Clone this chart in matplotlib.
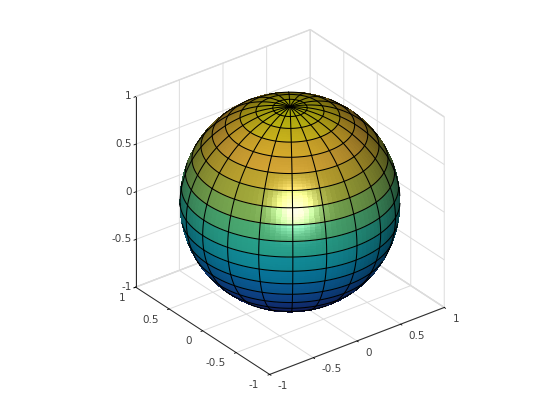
import numpy as np
import matplotlib
matplotlib.use("Agg")
import matplotlib.pyplot as plt
from matplotlib.colors import LinearSegmentedColormap

# mesh lines of the sphere, degrees
lat_deg = [-90, -81, -72, -63, -54, -45, -36, -27, -18, -9, 0,
           9, 18, 27, 36, 45, 54, 63, 72, 81, 90]
lon_deg = [-180, -162, -144, -126, -108, -90, -72, -54, -36, -18, 0,
           18, 36, 54, 72, 90, 108, 126, 144, 162, 180]

x_ticks = [-1, -0.5, 0, 0.5, 1]
y_ticks = [-1, -0.5, 0, 0.5, 1]
z_ticks = [-1, -0.5, 0, 0.5, 1]
tick_labels = ['-1', '-0.5', '0', '0.5', '1']

# colormap anchors
cmap_pos = [0.0, 0.11, 0.22, 0.33, 0.44, 0.55, 0.66, 0.77, 0.88, 1.0]
cmap_rgb = [(0.208, 0.166, 0.529), (0.120, 0.260, 0.720), (0.070, 0.400, 0.780),
            (0.030, 0.550, 0.760), (0.090, 0.670, 0.700), (0.240, 0.750, 0.560),
            (0.550, 0.750, 0.350), (0.800, 0.730, 0.200), (0.990, 0.740, 0.240),
            (0.976, 0.983, 0.054)]
cmap = LinearSegmentedColormap.from_list('sphere', list(zip(cmap_pos, cmap_rgb)))

elev, azim = 30, -127.5
sub = 6  # fine cells per mesh face, for the smooth highlight

fig = plt.figure(figsize=(5.6, 4.2), dpi=100)
L = 420.0
ax = fig.add_axes([74.3 / 560, 2.3 / 420, L / 560, L / 420], projection='3d',
                  proj_type='ortho', computed_zorder=False)
ax.view_init(elev=elev, azim=azim)
ax.set_box_aspect((1, 1, 1), zoom=370 / L)
ax.set_xlim(-1, 1, view_margin=0)
ax.set_ylim(-1, 1, view_margin=0)
ax.set_zlim(-1, 1, view_margin=0)

# camera frame
e, a = np.radians(elev), np.radians(azim)
view = np.array([np.cos(e) * np.cos(a), np.cos(e) * np.sin(a), np.sin(e)])
right = np.array([-np.sin(a), np.cos(a), 0])
up = np.cross(view, right)
light = view - 0.15 * right - 0.05 * up
light = light / np.linalg.norm(light)
shine = view + 0.10 * right - 0.13 * up
shine = shine / np.linalg.norm(shine)

# fine grid inside the mesh faces
lat = np.radians(lat_deg)
lon = np.radians(lon_deg)
flat = np.interp(np.arange(0, (len(lat) - 1) * sub + 1) / sub, np.arange(len(lat)), lat)
flon = np.interp(np.arange(0, (len(lon) - 1) * sub + 1) / sub, np.arange(len(lon)), lon)
LON, LAT = np.meshgrid(flon, flat)
X = np.cos(LAT) * np.cos(LON)
Y = np.cos(LAT) * np.sin(LON)
Z = np.sin(LAT)

# flat colour per mesh face, lit per fine cell
clat = 0.5 * (flat[:-1] + flat[1:])
clon = 0.5 * (flon[:-1] + flon[1:])
CLON, CLAT = np.meshgrid(clon, clat)
n = np.stack([np.cos(CLAT) * np.cos(CLON), np.cos(CLAT) * np.sin(CLON), np.sin(CLAT)], axis=-1)
row = np.arange(len(clat)) // sub
base = cmap((np.sin(lat[row]) + 1) / 2)[:, :3]
base = np.repeat(base[:, None, :], len(clon), axis=1)
ndl = np.clip(n @ light, 0, 1)
refl = 2 * (n @ shine)[..., None] * n - shine
spec = np.clip(refl @ view, 0, 1) ** 12
rgb = (0.38 + 0.52 * ndl)[..., None] * base + 0.6 * spec[..., None]
rgb = np.clip(rgb, 0, 1)

ax.plot_surface(X, Y, Z, facecolors=rgb, rstride=1, cstride=1, shade=False,
                linewidth=0, antialiased=False, zorder=2)


# mesh lines, front side only
def draw_line(la, lo):
    x = np.cos(la) * np.cos(lo)
    y = np.cos(la) * np.sin(lo)
    z = np.sin(la) * np.ones_like(x)
    hide = x * view[0] + y * view[1] + z * view[2] < 0.0
    x, y, z = x.copy(), y.copy(), z.copy()
    x[hide] = np.nan
    ax.plot(x, y, z, color='k', lw=0.75, zorder=3)


for v in lat[1:-1]:
    draw_line(np.full(flon.shape, v), flon)
for v in lon[:-1]:
    draw_line(flat, np.full(flat.shape, v))

ax.set_xticks(x_ticks, tick_labels)
ax.set_yticks(y_ticks, tick_labels)
ax.set_zticks(z_ticks, tick_labels)
ax.tick_params(axis='x', labelsize=7.5, labelcolor='#404040', pad=1.5)
ax.tick_params(axis='y', labelsize=7.5, labelcolor='#404040', pad=1.5)
ax.tick_params(axis='z', labelsize=7.5, labelcolor='#404040', pad=-6)

for t in ax.xaxis.get_ticklabels():
    t.set(ha='left', va='bottom')
for t in ax.yaxis.get_ticklabels():
    t.set(ha='right', va='bottom')
for t in ax.zaxis.get_ticklabels():
    t.set(ha='right', va='center')

for axis in (ax.xaxis, ax.yaxis, ax.zaxis):
    axis.set_pane_color((1, 1, 1, 1))
    axis.pane.set_edgecolor('#dcdcdc')
    axis.line.set_color('#262626')
    axis.line.set_linewidth(0.7)
    axis._axinfo['grid'].update(color='#dcdcdc', linewidth=0.7)
    axis._axinfo['tick'].update(inward_factor=0.12, outward_factor=0, linewidth={True: 0.6, False: 0.4}, color='#262626')

fig.savefig('out.png', dpi=100)
